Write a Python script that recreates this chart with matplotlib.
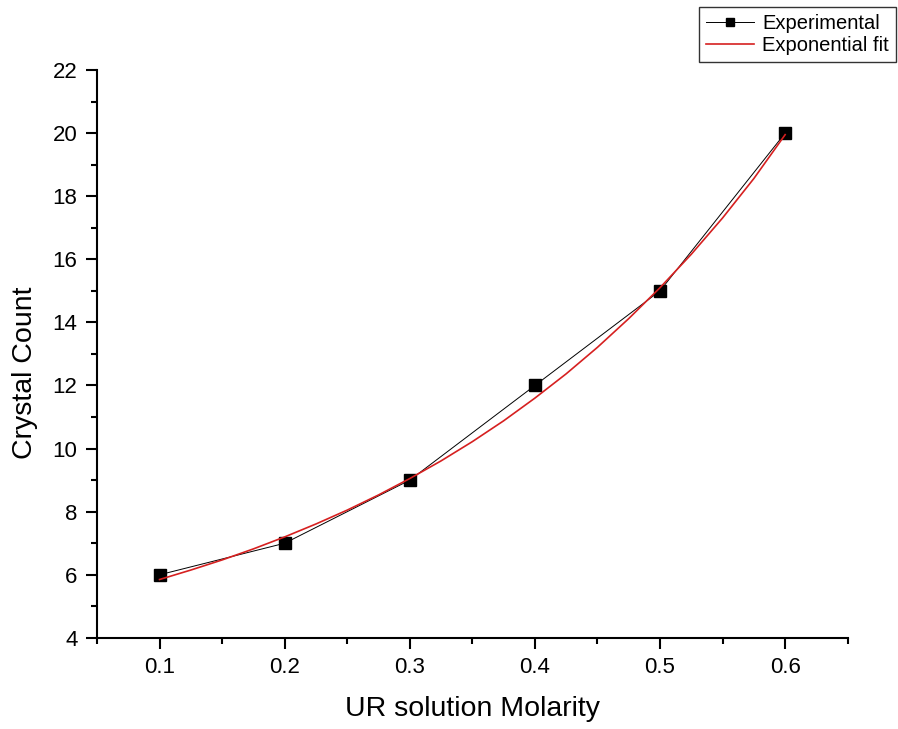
import matplotlib
matplotlib.use("Agg")
import matplotlib.pyplot as plt
from matplotlib.ticker import MultipleLocator

plt.rcParams['font.family'] = ['Liberation Sans', 'DejaVu Sans']

# experimental data
molarity = [0.1, 0.2, 0.3, 0.4, 0.5, 0.6]
count = [6, 7, 9, 12, 15, 20]

# exponential fit curve
fit_x = [0.100, 0.125, 0.150, 0.175, 0.200, 0.225, 0.250, 0.275, 0.300, 0.325, 0.350,
         0.375, 0.400, 0.425, 0.450, 0.475, 0.500, 0.525, 0.550, 0.575, 0.600]
fit_y = [5.85, 6.15, 6.47, 6.82, 7.20, 7.61, 8.05, 8.53, 9.05, 9.61, 10.22,
         10.88, 11.60, 12.37, 13.21, 14.12, 15.10, 16.16, 17.31, 18.56, 19.95]

fig = plt.figure(figsize=(8.98, 7.29), dpi=100)
ax = fig.add_axes([0.108, 0.125, 0.836, 0.779])

ax.plot(molarity, count, color='black', lw=0.7, marker='s', ms=8.5,
        mfc='black', mec='black', label='Experimental', zorder=3)
ax.plot(fit_x, fit_y, color='#d62020', lw=1.2, label='Exponential fit', zorder=4)

ax.set_xlim(0.05, 0.65)
ax.set_ylim(4, 22)
ax.xaxis.set_minor_locator(MultipleLocator(0.05))
ax.yaxis.set_major_locator(MultipleLocator(2))
ax.yaxis.set_minor_locator(MultipleLocator(1))
ax.set_xticks(molarity)
ax.set_xticklabels(['0.1', '0.2', '0.3', '0.4', '0.5', '0.6'])

for s in ['top', 'right']:
    ax.spines[s].set_visible(False)
for s in ['left', 'bottom']:
    ax.spines[s].set_linewidth(1.5)

ax.tick_params(which='major', direction='out', length=8, width=1.5, labelsize=16, pad=6)
ax.tick_params(which='minor', direction='out', length=4, width=1.5)

ax.set_xlabel('UR solution Molarity', fontsize=20.5, labelpad=13)
ax.set_ylabel('Crystal Count', fontsize=20.5)
ax.yaxis.set_label_coords(-0.078, 0.466)

leg = fig.legend(loc='upper right', bbox_to_anchor=(0.998, 0.990), fontsize=14.5,
                 frameon=True, fancybox=False, edgecolor='black', borderpad=0.35,
                 borderaxespad=0, handlelength=2.4, handletextpad=0.4,
                 labelspacing=0.15, markerscale=0.75)
leg.get_frame().set_linewidth(1.0)

fig.savefig('out.png', dpi=100)
